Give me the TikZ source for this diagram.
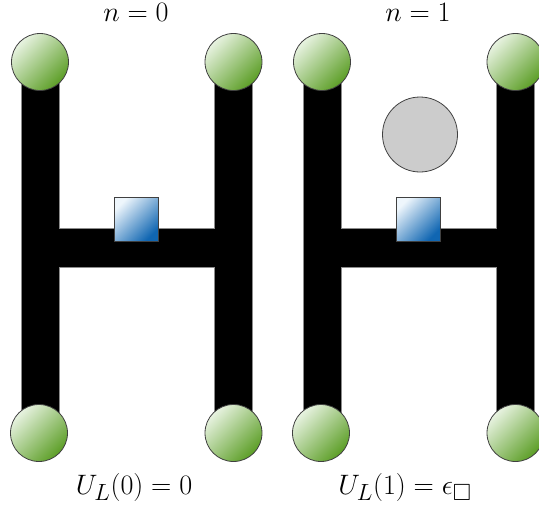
\documentclass[tikz,border=0pt]{standalone}
\usepackage{graphicx}
\usepackage{amssymb}
\definecolor{glight}{RGB}{232,243,225}
\definecolor{gdark}{RGB}{92,158,38}
\definecolor{blight}{RGB}{238,246,252}
\definecolor{bdark}{RGB}{16,102,178}
\newcommand{\biglab}[1]{\scalebox{1.13}{\fontsize{24.88}{30}\selectfont #1}}
\begin{document}
\begin{tikzpicture}[x=1pt,y=-1pt,
  bar/.style={fill=black,draw=black!45,line width=1pt,line join=miter},
  site/.style={circle,minimum size=57pt,inner sep=0pt,draw=black!75,line width=0.8pt,
    shading=axis,top color=glight,bottom color=gdark,shading angle=45},
  plaq/.style={rectangle,minimum width=44pt,minimum height=44pt,inner sep=0pt,draw=black!75,line width=0.8pt,
    shading=axis,top color=blight,bottom color=bdark,shading angle=45},
  ball/.style={circle,minimum size=75pt,inner sep=0pt,fill=black!20,draw=black!75,line width=0.8pt},
  lab/.style={anchor=base,inner sep=0pt}]
\useasboundingbox (0,0) rectangle (539,509);
\foreach \o/\s in {0/a,282/b}{
  \begin{scope}[xshift=\o]
    \path[bar] (21,62) -- (59,62) -- (59,228) -- (214,228) -- (214,62) -- (252,62)
      -- (252,433) -- (214,433) -- (214,267) -- (59,267) -- (59,433) -- (21,433) -- cycle;
    \node[site] (\s tl) at (40,62) {};
    \node[site] (\s tr) at (233.5,62) {};
    \node[site] (\s bl) at (39,433) {};
    \node[site] (\s br) at (233.5,433) {};
    \node[plaq] (\s sq) at (136.5,219) {};
  \end{scope}
}
\node[ball] (g) at (420,134.5) {};
\node[lab] (t0) at (136,21.5) {\biglab{$n=0$}};
\node[lab] (t1) at (418,21.5) {\biglab{$n=1$}};
\node[lab] (u0) at (134,494) {\biglab{$U_L(0)=0$}};
\node[lab] (u1) at (405,494) {\biglab{$U_L(1)=\epsilon_{\square}$}};
\end{tikzpicture}
\end{document}
